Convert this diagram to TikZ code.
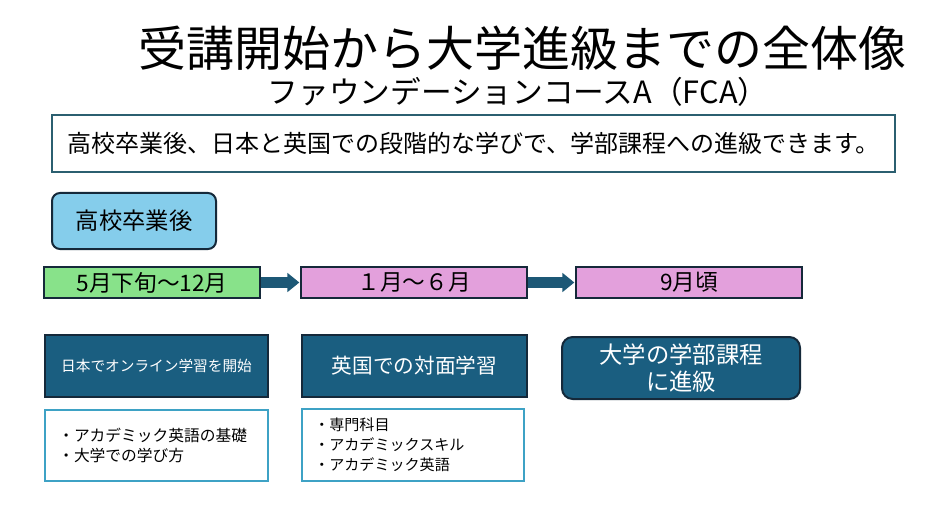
\documentclass[tikz,border=0pt]{standalone}
\usepackage{fontspec}
\setmainfont{Noto Sans CJK JP}
\usetikzlibrary{arrows.meta}
\definecolor{framec}{HTML}{2B5F70}
\definecolor{skyc}{HTML}{85CDEB}
\definecolor{darkline}{HTML}{15293A}
\definecolor{greenc}{HTML}{88E28A}
\definecolor{pinkc}{HTML}{E3A0DC}
\definecolor{tealc}{HTML}{1A5E80}
\definecolor{lightb}{HTML}{3EA2C5}
\definecolor{arrowc}{HTML}{1D5876}
\tikzset{
  px/.style={x=0.75pt,y=-0.75pt},
  mainbox/.style={draw=framec,line width=2pt,fill=white,minimum width=843*0.75pt,minimum height=57*0.75pt,inner sep=0pt},
  skybox/.style={draw=darkline,line width=1.5pt,fill=skyc,rounded corners=6pt,minimum width=164*0.75pt,minimum height=56*0.75pt,inner sep=0pt},
  period/.style={draw=darkline,line width=1.5pt,minimum height=31*0.75pt,inner sep=0pt,font=\fontsize{17}{19}\selectfont},
  darkbox/.style={draw=darkline,line width=1.5pt,fill=tealc,text=white,minimum height=62*0.75pt,inner sep=0pt},
  listbox/.style={draw=lightb,line width=1.8pt,fill=white,inner sep=0pt},
  listtext/.style={anchor=west,align=left,inner sep=0pt,font=\fontsize{11.8}{15}\selectfont},
  flow/.style={draw=arrowc,line width=8.5pt,-{Triangle[length=9pt,width=14pt]},shorten >=0.5pt}
}
\begin{document}
\begin{tikzpicture}[px]
\useasboundingbox[fill=white] (0,0) rectangle (935,506);
\node[inner sep=0pt,font=\fontsize{36}{40}\selectfont] (title) at (522,48) {受講開始から大学進級までの全体像};
\node[inner sep=0pt,font=\fontsize{23}{26}\selectfont] (sub) at (518,92) {ファウンデーションコースA（FCA）};
\node[mainbox,font=\fontsize{18}{20}\selectfont] (intro) at (473.5,143.5) {高校卒業後、日本と英国での段階的な学びで、学部課程への進級できます。};
\node[skybox,font=\fontsize{17.5}{20}\selectfont] (grad) at (134,221) {高校卒業後};
\node[period,fill=greenc,minimum width=216*0.75pt] (p1) at (152,282.5) {5月下旬〜12月};
\node[period,fill=pinkc,minimum width=226*0.75pt] (p2) at (414,282.5) {１月～６月};
\node[period,fill=pinkc,minimum width=226*0.75pt] (p3) at (689,282.5) {9月頃};
\draw[flow] (p1.east) -- (p2.west);
\draw[flow] (p2.east) -- (p3.west);
\node[darkbox,minimum width=223*0.75pt,font=\fontsize{11}{13}\selectfont] (d1) at (156.5,366) {日本でオンライン学習を開始};
\node[darkbox,minimum width=225*0.75pt,font=\fontsize{15.5}{18}\selectfont] (d2) at (414.5,366) {英国での対面学習};
\node[darkbox,rounded corners=8pt,minimum width=238*0.75pt,align=center,font=\fontsize{17.5}{20}\selectfont] (d3) at (681,368) {大学の学部課程\\に進級};
\node[listbox,minimum width=223*0.75pt,minimum height=71*0.75pt] (w1) at (156.5,445.5) {};
\node[listtext] (t1) at (58,445.5) {・アカデミック英語の基礎\\・大学での学び方};
\node[listbox,minimum width=222*0.75pt,minimum height=72*0.75pt] (w2) at (413,445) {};
\node[listtext,font=\fontsize{11.3}{15}\selectfont] (t2) at (314,445) {・専門科目\\・アカデミックスキル\\・アカデミック英語};
\end{tikzpicture}
\end{document}
